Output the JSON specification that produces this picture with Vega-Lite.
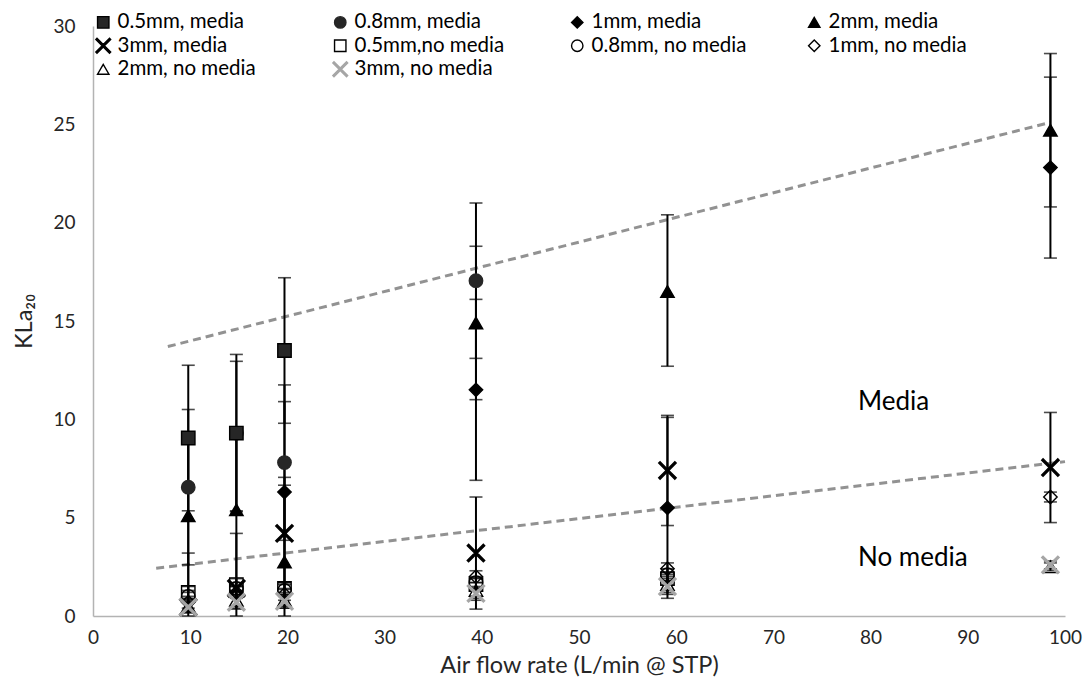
{
  "$schema": "https://vega.github.io/schema/vega-lite/v6.json",
  "width": 972,
  "height": 590,
  "autosize": {"type": "none"},
  "padding": {"left": 93, "top": 26, "right": 23, "bottom": 74},
  "background": "white",
  "config": {
    "font": "Lato",
    "view": {"stroke": null},
    "axis": {"grid": false, "ticks": false, "labelFlush": false, "domainColor": "#b3b3b3", "domainWidth": 1.5, "labelFont": "Lato", "labelFontSize": 19, "labelColor": "#262626", "titleFont": "Lato", "titleFontSize": 23.5, "titleFontWeight": "normal", "titleColor": "#262626"}
  },
  "datasets": {
    "pts": [
      {"series": "0.8mm, media", "x": 14.75, "y": 9.3, "lo": 5.35, "hi": 12.95},
      {"series": "0.5mm, media", "x": 9.8, "y": 9.05, "lo": 5.35, "hi": 12.75},
      {"series": "0.5mm, media", "x": 14.75, "y": 9.3, "lo": 5.3, "hi": 13.3},
      {"series": "0.5mm, media", "x": 19.7, "y": 13.5, "lo": 9.8, "hi": 17.2},
      {"series": "0.8mm, media", "x": 9.8, "y": 6.55, "lo": 2.6, "hi": 10.5},
      {"series": "0.8mm, media", "x": 19.7, "y": 7.8, "lo": 3.85, "hi": 11.75},
      {"series": "0.8mm, media", "x": 39.4, "y": 17.05, "lo": 13.1, "hi": 21.0},
      {"series": "1mm, media", "x": 19.7, "y": 6.3, "lo": 1.7, "hi": 10.9},
      {"series": "1mm, media", "x": 39.4, "y": 11.5, "lo": 6.9, "hi": 16.1},
      {"series": "1mm, media", "x": 59.1, "y": 5.5, "lo": 0.9, "hi": 10.1},
      {"series": "1mm, media", "x": 98.5, "y": 22.8, "lo": 18.2, "hi": 27.4},
      {"series": "2mm, media", "x": 9.8, "y": 5.1, "lo": 1.2, "hi": 9.0},
      {"series": "2mm, media", "x": 14.75, "y": 5.4, "lo": 1.5, "hi": 9.3},
      {"series": "2mm, media", "x": 19.7, "y": 2.75, "lo": 0, "hi": 6.65},
      {"series": "2mm, media", "x": 39.4, "y": 14.9, "lo": 11.0, "hi": 18.8},
      {"series": "2mm, media", "x": 59.1, "y": 16.5, "lo": 12.7, "hi": 20.4},
      {"series": "2mm, media", "x": 98.5, "y": 24.7, "lo": 20.8, "hi": 28.6},
      {"series": "3mm, media", "x": 9.8, "y": 0.45, "lo": 0, "hi": 3.2},
      {"series": "3mm, media", "x": 14.75, "y": 1.4, "lo": 0, "hi": 4.2},
      {"series": "3mm, media", "x": 19.7, "y": 4.2, "lo": 1.35, "hi": 7.05},
      {"series": "3mm, media", "x": 39.4, "y": 3.2, "lo": 0.35, "hi": 6.05},
      {"series": "3mm, media", "x": 59.1, "y": 7.4, "lo": 4.6, "hi": 10.2},
      {"series": "3mm, media", "x": 98.5, "y": 7.55, "lo": 4.75, "hi": 10.35},
      {"series": "0.5mm,no media", "x": 9.8, "y": 1.2, "lo": 0.9, "hi": 1.5},
      {"series": "0.5mm,no media", "x": 14.75, "y": 1.6, "lo": 1.3, "hi": 1.9},
      {"series": "0.5mm,no media", "x": 19.7, "y": 1.4, "lo": 1.1, "hi": 1.7},
      {"series": "0.5mm,no media", "x": 39.4, "y": 1.6, "lo": 1.3, "hi": 1.9},
      {"series": "0.5mm,no media", "x": 59.1, "y": 1.9, "lo": 1.6, "hi": 2.2},
      {"series": "0.8mm, no media", "x": 9.8, "y": 1.0, "lo": 0.7, "hi": 1.3},
      {"series": "0.8mm, no media", "x": 14.75, "y": 1.4, "lo": 1.1, "hi": 1.7},
      {"series": "0.8mm, no media", "x": 19.7, "y": 1.3, "lo": 1.0, "hi": 1.6},
      {"series": "0.8mm, no media", "x": 39.4, "y": 1.7, "lo": 1.4, "hi": 2.0},
      {"series": "0.8mm, no media", "x": 59.1, "y": 2.1, "lo": 1.8, "hi": 2.4},
      {"series": "1mm, no media", "x": 9.8, "y": 0.7, "lo": 0.4, "hi": 1.0},
      {"series": "1mm, no media", "x": 14.75, "y": 1.2, "lo": 0.9, "hi": 1.5},
      {"series": "1mm, no media", "x": 19.7, "y": 1.1, "lo": 0.8, "hi": 1.4},
      {"series": "1mm, no media", "x": 39.4, "y": 2.0, "lo": 1.7, "hi": 2.3},
      {"series": "1mm, no media", "x": 59.1, "y": 2.4, "lo": 2.1, "hi": 2.7},
      {"series": "1mm, no media", "x": 98.5, "y": 6.05, "lo": 5.8, "hi": 6.3},
      {"series": "2mm, no media", "x": 9.8, "y": 0.5, "lo": 0.2, "hi": 0.8},
      {"series": "2mm, no media", "x": 14.75, "y": 0.8, "lo": 0.4, "hi": 1.2},
      {"series": "2mm, no media", "x": 19.7, "y": 0.8, "lo": 0.4, "hi": 1.2},
      {"series": "2mm, no media", "x": 39.4, "y": 1.3, "lo": 0.9, "hi": 1.7},
      {"series": "2mm, no media", "x": 59.1, "y": 1.6, "lo": 1.2, "hi": 2.0},
      {"series": "2mm, no media", "x": 98.5, "y": 2.5, "lo": 2.3, "hi": 2.7},
      {"series": "3mm, no media", "x": 9.8, "y": 0.45, "lo": 0.15, "hi": 0.75},
      {"series": "3mm, no media", "x": 14.75, "y": 0.7, "lo": 0.35, "hi": 1.05},
      {"series": "3mm, no media", "x": 19.7, "y": 0.75, "lo": 0.4, "hi": 1.1},
      {"series": "3mm, no media", "x": 39.4, "y": 1.15, "lo": 0.8, "hi": 1.5},
      {"series": "3mm, no media", "x": 59.1, "y": 1.5, "lo": 1.1, "hi": 1.9},
      {"series": "3mm, no media", "x": 98.5, "y": 2.6, "lo": 2.4, "hi": 2.8}
    ],
    "trend": [
      {"trend": "media", "x": 7.7, "y": 13.7},
      {"trend": "media", "x": 98.5, "y": 25.1},
      {"trend": "no media", "x": 6.5, "y": 2.43},
      {"trend": "no media", "x": 100, "y": 7.85}
    ],
    "notes": [
      {"label": "Media", "x": 78.7, "y": 10.9},
      {"label": "No media", "x": 78.7, "y": 2.95}
    ]
  },
  "layer": [
    {
      "data": {"name": "trend"},
      "mark": {"type": "line", "color": "#929292", "strokeWidth": 3, "strokeDash": [8, 5]},
      "encoding": {
        "x": {"field": "x", "type": "quantitative", "scale": {"domain": [0, 100]}, "axis": {"values": [0,10,20,30,40,50,60,70,80,90,100], "labelPadding": 12, "title": "Air flow rate (L/min @ STP)", "titlePadding": 6}},
        "y": {"field": "y", "type": "quantitative", "scale": {"domain": [0, 30]}, "axis": {"values": [0,5,10,15,20,25,30], "labelPadding": 18, "title": "KLa₂₀", "titlePadding": 16}},
        "detail": {"field": "trend"}
      }
    },
    {
      "data": {"name": "pts"},
      "mark": {"type": "rule", "color": "black", "strokeWidth": 2},
      "encoding": {
        "x": {"field": "x", "type": "quantitative"},
        "y": {"field": "lo", "type": "quantitative"},
        "y2": {"field": "hi"}
      }
    },
    {
      "data": {"name": "pts"},
      "mark": {"type": "tick", "orient": "horizontal", "color": "black", "size": 13, "thickness": 1.6},
      "encoding": {
        "x": {"field": "x", "type": "quantitative"},
        "y": {"field": "lo", "type": "quantitative"}
      }
    },
    {
      "data": {"name": "pts"},
      "mark": {"type": "tick", "orient": "horizontal", "color": "black", "size": 13, "thickness": 1.6},
      "encoding": {
        "x": {"field": "x", "type": "quantitative"},
        "y": {"field": "hi", "type": "quantitative"}
      }
    },
    {
      "data": {"name": "pts"},
      "mark": {"type": "point", "size": 180, "opacity": 1, "strokeWidth": 1.4},
      "encoding": {
        "x": {"field": "x", "type": "quantitative"},
        "y": {"field": "y", "type": "quantitative"},
        "shape": {
          "field": "series", "type": "nominal",
          "scale": {
            "domain": ["0.5mm, media", "0.8mm, media", "1mm, media", "2mm, media", "3mm, media", "0.5mm,no media", "0.8mm, no media", "1mm, no media", "2mm, no media", "3mm, no media"],
            "range": ["square", "circle", "diamond", "triangle-up", "M-1.3,-1.1L-1.1,-1.3L0,-0.2L1.1,-1.3L1.3,-1.1L0.2,0L1.3,1.1L1.1,1.3L0,0.2L-1.1,1.3L-1.3,1.1L-0.2,0Z", "square", "circle", "diamond", "triangle-up", "M-1.3,-1.1L-1.1,-1.3L0,-0.2L1.1,-1.3L1.3,-1.1L0.2,0L1.3,1.1L1.1,1.3L0,0.2L-1.1,1.3L-1.3,1.1L-0.2,0Z"]
          },
          "legend": {
            "title": null, "orient": "none", "legendX": 0, "legendY": -14, "columns": 4, "gridAlign": "all", "columnPadding": 57, "rowPadding": 2.5, "labelLimit": 400,
            "values": ["0.5mm, media", "3mm, media", "1mm, no media", "0.8mm, media", "0.5mm,no media", "2mm, no media", "1mm, media", "0.8mm, no media", "3mm, no media", "2mm, media"],
            "labelFont": "Lato", "labelFontSize": 20.5, "labelColor": "#000000", "symbolSize": 130, "labelOffset": 4, "symbolStrokeWidth": 1.4
          }
        },
        "fill": {
          "field": "series", "type": "nominal",
          "scale": {
            "domain": ["0.5mm, media", "0.8mm, media", "1mm, media", "2mm, media", "3mm, media", "0.5mm,no media", "0.8mm, no media", "1mm, no media", "2mm, no media", "3mm, no media"],
            "range": ["#262626", "#262626", "#000000", "#000000", "#000000", "transparent", "transparent", "transparent", "transparent", "#A6A6A6"]
          }
        },
        "stroke": {
          "field": "series", "type": "nominal",
          "scale": {
            "domain": ["0.5mm, media", "0.8mm, media", "1mm, media", "2mm, media", "3mm, media", "0.5mm,no media", "0.8mm, no media", "1mm, no media", "2mm, no media", "3mm, no media"],
            "range": ["#000000", "#262626", "#000000", "#000000", "#000000", "#000000", "#000000", "#000000", "#000000", "#A6A6A6"]
          }
        }
      }
    },
    {
      "data": {"name": "notes"},
      "mark": {"type": "text", "align": "left", "baseline": "middle", "fontSize": 26, "font": "Lato", "color": "#000000"},
      "encoding": {
        "x": {"field": "x", "type": "quantitative"},
        "y": {"field": "y", "type": "quantitative"},
        "text": {"field": "label"}
      }
    }
  ]
}
